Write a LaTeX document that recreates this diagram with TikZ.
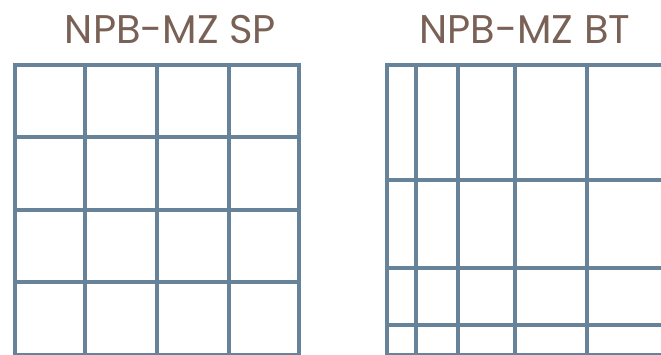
\documentclass[tikz,border=0pt]{standalone}
\usepackage{fontspec}
\setmainfont{Poppins}
\definecolor{gridc}{HTML}{67839A}
\definecolor{titlec}{HTML}{7A6155}
\tikzset{
  gline/.style={draw=gridc, line width=4pt},
  title/.style={text=titlec, font=\fontsize{40}{40}\selectfont, inner sep=0pt, anchor=base}
}
\begin{document}
\begin{tikzpicture}[x=1pt,y=-1pt]
\useasboundingbox (0,0) rectangle (661,354);
\node[title] (t1) at (170.5,43) {NPB-MZ SP};
\node[title] (t2) at (525,43) {NPB-MZ BT};
% left grid
\foreach \x in {14.5,85.3,156.5,228.5,298.5} \draw[gline] (\x,62.5) -- (\x,356);
\foreach \y in {64.5,137,209.8,282.3,354.5} \draw[gline] (12.5,\y) -- (300.5,\y);
% right grid
\foreach \x in {387,415.7,458.3,515.3,586.7} \draw[gline] (\x,62.5) -- (\x,356);
\foreach \y in {64.5,180.3,267.7,325.1,354.5} \draw[gline] (385,\y) -- (665,\y);
\end{tikzpicture}
\end{document}
